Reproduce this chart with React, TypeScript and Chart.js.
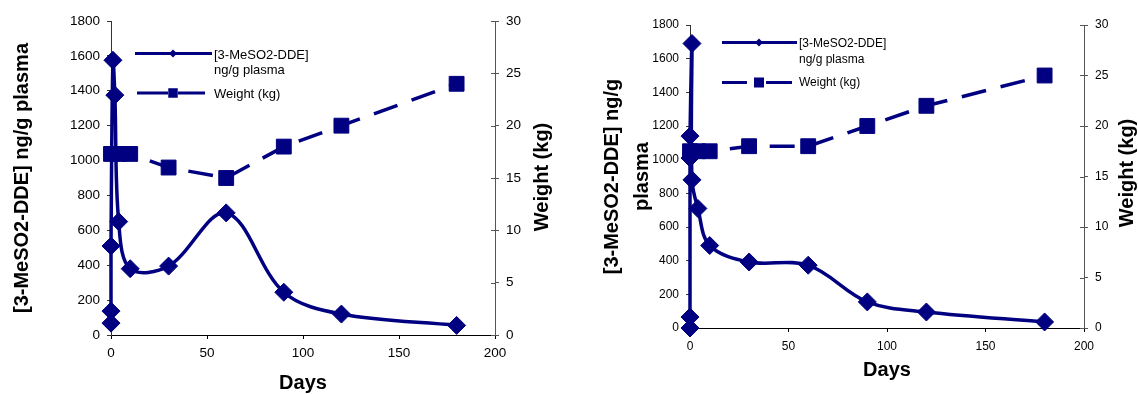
import React, { useEffect, useRef } from "react";
import { Chart, registerables } from "chart.js";

Chart.register(...registerables);

const NAVY = "#000080";
const FONT = "'Liberation Sans', Arial, Helvetica, sans-serif";

// ---- Chart A (left) ----
const daysA = [0, 0, 0, 1, 2, 4, 10, 30, 60, 90, 120, 180];
const plasmaA = [68, 137, 510, 1575, 1375, 650, 380, 395, 700, 245, 120, 55];
const weightDaysA = [0, 4, 10, 30, 60, 90, 120, 180];
const weightA = [17.3, 17.3, 17.3, 16, 15, 18, 20, 24];

// ---- Chart B (right) ----
const daysB = [0, 0, 0, 0, 1, 1, 4, 10, 30, 60, 90, 120, 180];
const plasmaB = [0, 65, 1010, 1140, 1690, 880, 710, 490, 392, 373, 155, 95, 36];
const weightDaysB = [0, 4, 10, 30, 60, 90, 120, 180];
const weightB = [17.5, 17.5, 17.5, 18, 18, 20, 22, 25];

// ---- Axis / legend texts ----
const xTicks = { min: 0, max: 200, step: 50 };
const yLeftTicks = { min: 0, max: 1800, step: 200 };
const yRightTicks = { min: 0, max: 30, step: 5 };
const plasmaLabel = ["[3-MeSO2-DDE]", "ng/g plasma"];
const weightLabel = "Weight (kg)";
const xTitle = "Days";
const leftTitleA = "[3-MeSO2-DDE] ng/g plasma";
const leftTitleB = ["[3-MeSO2-DDE] ng/g", "plasma"];
const rightTitle = "Weight (kg)";

type Spec = {
  days: number[];
  plasma: number[];
  wDays: number[];
  weight: number[];
  width: number;
  leftW: number;
  rightW: number;
  xH: number;
  top: number;
  tickSize: number;
  xTickPad: number;
  yTickPad: number;
  leftTitle: string | string[];
  leftTitleLH: number;
  leftTitlePad: number;
  daysPad: number;
  rightTitleX: number;
  rightTitleY: number;
  legend: {
    fontSize: number;
    textX: number;
    base1: number;
    base2: number;
    base3: number;
    line1Y: number;
    line2Y: number;
    l1x0: number;
    l1x1: number;
    mx: number;
    d1: [number, number];
    d2: [number, number];
    dRad: number;
    sqSide: number;
  };
};

const plain = (v: any) => String(v);

function makeChart(canvas: HTMLCanvasElement, s: Spec) {
  const extras = {
    id: "extras",
    afterDraw(chart: any) {
      const ctx = chart.ctx as CanvasRenderingContext2D;
      const y1 = chart.scales.y1;
      // inner (cross) tick marks on the right axis
      ctx.save();
      ctx.strokeStyle = "#555";
      ctx.lineWidth = 1;
      y1.ticks.forEach((t: any) => {
        const py = Math.round(y1.getPixelForValue(t.value)) + 0.5;
        ctx.beginPath();
        ctx.moveTo(y1.left, py);
        ctx.lineTo(y1.left - 4, py);
        ctx.stroke();
      });
      ctx.restore();

      // right axis title (reads bottom to top)
      ctx.save();
      ctx.translate(s.rightTitleX, s.rightTitleY);
      ctx.rotate(-Math.PI / 2);
      ctx.font = `bold 20px ${FONT}`;
      ctx.fillStyle = "#000";
      ctx.textAlign = "center";
      ctx.textBaseline = "middle";
      ctx.fillText(rightTitle, 0, 0);
      ctx.restore();

      // legend
      const L = s.legend;
      ctx.save();
      ctx.strokeStyle = NAVY;
      ctx.fillStyle = NAVY;
      ctx.lineWidth = 3;
      ctx.beginPath();
      ctx.moveTo(L.l1x0, L.line1Y);
      ctx.lineTo(L.l1x1, L.line1Y);
      ctx.stroke();
      ctx.beginPath();
      ctx.moveTo(L.mx, L.line1Y - L.dRad);
      ctx.lineTo(L.mx + L.dRad, L.line1Y);
      ctx.lineTo(L.mx, L.line1Y + L.dRad);
      ctx.lineTo(L.mx - L.dRad, L.line1Y);
      ctx.closePath();
      ctx.fill();
      ctx.beginPath();
      ctx.moveTo(L.d1[0], L.line2Y);
      ctx.lineTo(L.d1[1], L.line2Y);
      ctx.moveTo(L.d2[0], L.line2Y);
      ctx.lineTo(L.d2[1], L.line2Y);
      ctx.stroke();
      ctx.fillRect(L.mx - L.sqSide / 2, L.line2Y - L.sqSide / 2, L.sqSide, L.sqSide);
      ctx.fillStyle = "#000";
      ctx.font = `${L.fontSize}px ${FONT}`;
      ctx.textAlign = "left";
      ctx.textBaseline = "alphabetic";
      ctx.fillText(plasmaLabel[0], L.textX, L.base1);
      ctx.fillText(plasmaLabel[1], L.textX, L.base2);
      ctx.fillText(weightLabel, L.textX, L.base3);
      ctx.restore();
    },
  };

  const tickFont = { family: FONT, size: s.tickSize };
  const titleFont = { family: FONT, size: 20, weight: "bold" as const };

  return new Chart(canvas, {
    type: "line",
    data: {
      datasets: [
        {
          label: plasmaLabel.join(" "),
          data: s.days.map((d, i) => ({ x: d, y: s.plasma[i] })),
          yAxisID: "y",
          borderColor: NAVY,
          backgroundColor: NAVY,
          borderWidth: 3.5,
          tension: 0.35,
          pointStyle: "rectRot",
          pointRadius: 9,
          pointBorderWidth: 1,
          pointBackgroundColor: NAVY,
          pointBorderColor: NAVY,
          clip: false as any,
          fill: false,
        },
        {
          label: weightLabel,
          data: s.wDays.map((d, i) => ({ x: d, y: s.weight[i] })),
          yAxisID: "y1",
          borderColor: NAVY,
          backgroundColor: NAVY,
          borderWidth: 3.5,
          borderDash: [25, 15],
          tension: 0,
          pointStyle: "rect",
          pointRadius: 10.5,
          pointBorderWidth: 1,
          pointBackgroundColor: NAVY,
          pointBorderColor: NAVY,
          clip: false as any,
          fill: false,
        },
      ],
    },
    options: {
      responsive: false,
      animation: false,
      devicePixelRatio: 1,
      layout: { padding: { top: s.top, left: 0, right: 0, bottom: 0 } },
      plugins: { legend: { display: false }, tooltip: { enabled: false } },
      scales: {
        x: {
          type: "linear",
          min: xTicks.min,
          max: xTicks.max,
          ticks: { stepSize: xTicks.step, font: tickFont, color: "#000", padding: s.xTickPad, maxRotation: 0, callback: plain },
          grid: { drawOnChartArea: false, drawTicks: true, tickLength: 4, color: "#000" },
          border: { display: true, color: "#000", width: 1 },
          title: {
            display: true,
            text: xTitle,
            color: "#000",
            font: { ...titleFont, lineHeight: 1.2 },
            padding: { top: 0, bottom: s.daysPad },
          },
          afterFit: (sc: any) => {
            sc.height = s.xH;
          },
        },
        y: {
          type: "linear",
          position: "left",
          min: yLeftTicks.min,
          max: yLeftTicks.max,
          ticks: { stepSize: yLeftTicks.step, font: tickFont, color: "#000", padding: s.yTickPad, callback: plain },
          grid: { drawOnChartArea: false, drawTicks: true, tickLength: 4, color: "#333" },
          border: { display: true, color: "#333", width: 1 },
          title: {
            display: true,
            text: s.leftTitle,
            color: "#000",
            font: { ...titleFont, lineHeight: s.leftTitleLH },
            padding: { top: s.leftTitlePad, bottom: 0 },
          },
          afterFit: (sc: any) => {
            sc.width = s.leftW;
          },
        },
        y1: {
          type: "linear",
          position: "right",
          min: yRightTicks.min,
          max: yRightTicks.max,
          ticks: { stepSize: yRightTicks.step, font: tickFont, color: "#000", padding: s.yTickPad, callback: plain },
          grid: { drawOnChartArea: false, drawTicks: true, tickLength: 4, color: "#555" },
          border: { display: true, color: "#555", width: 1 },
          afterFit: (sc: any) => {
            sc.width = s.rightW;
          },
        },
      },
    },
    plugins: [extras],
  } as any);
}

const specA: Spec = {
  days: daysA,
  plasma: plasmaA,
  wDays: weightDaysA,
  weight: weightA,
  width: 580,
  leftW: 111,
  rightW: 85,
  xH: 59,
  top: 21,
  tickSize: 13.5,
  xTickPad: 6,
  yTickPad: 7,
  leftTitle: leftTitleA,
  leftTitleLH: 1.2,
  leftTitlePad: 10,
  daysPad: -1,
  rightTitleX: 542,
  rightTitleY: 177,
  legend: {
    fontSize: 13,
    textX: 214,
    base1: 58.5,
    base2: 74,
    base3: 97.5,
    line1Y: 53.5,
    line2Y: 93,
    l1x0: 135,
    l1x1: 212,
    mx: 173,
    d1: [137, 168],
    d2: [178, 205],
    dRad: 4,
    sqSide: 9.5,
  },
};

const specB: Spec = {
  days: daysB,
  plasma: plasmaB,
  wDays: weightDaysB,
  weight: weightB,
  width: 558,
  leftW: 110,
  rightW: 54,
  xH: 66,
  top: 25,
  tickSize: 12,
  xTickPad: 7,
  yTickPad: 7,
  leftTitle: leftTitleB,
  leftTitleLH: 1.5,
  leftTitlePad: 17,
  daysPad: 12,
  rightTitleX: 547,
  rightTitleY: 173,
  legend: {
    fontSize: 12,
    textX: 219,
    base1: 46.5,
    base2: 62.5,
    base3: 86,
    line1Y: 42.5,
    line2Y: 82.5,
    l1x0: 142,
    l1x1: 217,
    mx: 179,
    d1: [142, 167],
    d2: [186, 212],
    dRad: 4,
    sqSide: 10,
  },
};

function Panel({ spec, left }: { spec: Spec; left: number }) {
  const ref = useRef<HTMLCanvasElement | null>(null);
  useEffect(() => {
    if (!ref.current) return;
    const c = makeChart(ref.current, spec);
    return () => c.destroy();
  }, [spec]);
  return (
    <canvas
      ref={ref}
      width={spec.width}
      height={394}
      style={{ position: "absolute", left, top: 0, width: spec.width, height: 394 }}
    />
  );
}

export default function App() {
  return (
    <div
      style={{
        position: "absolute",
        left: 0,
        top: 0,
        width: 1138,
        height: 394,
        background: "#fff",
        overflow: "hidden",
      }}
    >
      <Panel spec={specA} left={0} />
      <Panel spec={specB} left={580} />
    </div>
  );
}
